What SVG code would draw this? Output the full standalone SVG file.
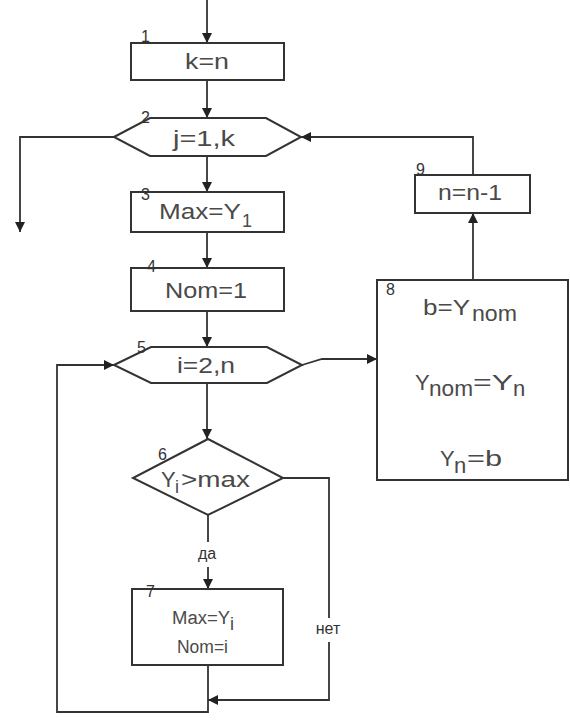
<svg xmlns="http://www.w3.org/2000/svg" width="570" height="722" viewBox="0 0 570 722">
  <defs>
    <marker id="arr" viewBox="0 0 10 10" refX="10" refY="5" markerWidth="10" markerHeight="10" markerUnits="userSpaceOnUse" orient="auto">
      <path d="M0,0 L10,5 L0,10 Z" fill="#222"/>
    </marker>
    <style>
      .shape { fill: #fff; stroke: #333; stroke-width: 2; }
      .line { fill: none; stroke: #333; stroke-width: 1.8; }
      .txt { font-family: "Liberation Sans", Arial, sans-serif; font-size: 22px; fill: #4a4a4a; }
      .sm { font-family: "Liberation Sans", Arial, sans-serif; font-size: 18px; fill: #4a4a4a; }
      .num { font-family: "Liberation Sans", Arial, sans-serif; font-size: 16px; fill: #333; }
      .lbl { font-family: "Liberation Sans", Arial, sans-serif; font-size: 16px; fill: #333; }
    </style>
  </defs>

  <rect width="570" height="722" fill="#fff"/>

  <!-- connectors -->
  <g id="connectors">
    <line class="line" x1="207" y1="0" x2="207" y2="43" marker-end="url(#arr)"/>
    <line class="line" x1="207" y1="80" x2="207" y2="118" marker-end="url(#arr)"/>
    <polyline class="line" points="114,137 20,137 20,232" marker-end="url(#arr)"/>
    <line class="line" x1="207" y1="156" x2="207" y2="192" marker-end="url(#arr)"/>
    <line class="line" x1="207" y1="232" x2="207" y2="268" marker-end="url(#arr)"/>
    <line class="line" x1="207" y1="311" x2="207" y2="347" marker-end="url(#arr)"/>
    <polyline class="line" points="302,365 322,359 377,359" marker-end="url(#arr)"/>
    <line class="line" x1="207" y1="383" x2="207" y2="439" marker-end="url(#arr)"/>
    <line class="line" x1="208" y1="515" x2="208" y2="542"/>
    <line class="line" x1="208" y1="567" x2="208" y2="589" marker-end="url(#arr)"/>
    <polyline class="line" points="283,478 329,478 329,618"/>
    <polyline class="line" points="329,642 329,700 208,700" marker-end="url(#arr)"/>
    <polyline class="line" points="208,665 208,712 57,712 57,365 114,365" marker-end="url(#arr)"/>
    <line class="line" x1="473" y1="280" x2="473" y2="213" marker-end="url(#arr)"/>
    <polyline class="line" points="473,175 473,137 301,137" marker-end="url(#arr)"/>
    <text class="lbl" x="207" y="559" text-anchor="middle">да</text>
    <text class="lbl" x="328" y="634" text-anchor="middle">нет</text>
  </g>

  <!-- 1: k=n -->
  <g id="node1">
    <rect class="shape" x="131" y="43" width="153" height="37"/>
    <text class="num" x="141" y="42">1</text>
    <text class="txt" x="185" y="69" textLength="44" lengthAdjust="spacingAndGlyphs">k=n</text>
  </g>

  <!-- 2: loop j=1,k -->
  <g id="node2">
    <polygon class="shape" points="114,137 150,118 266,118 301,137 266,156 150,156"/>
    <text class="num" x="141" y="123">2</text>
    <text class="txt" x="173" y="146" textLength="62" lengthAdjust="spacingAndGlyphs">j=1,k</text>
  </g>

  <!-- 3: Max=Y1 -->
  <g id="node3">
    <rect class="shape" x="131" y="192" width="153" height="40"/>
    <text class="num" x="141" y="200">3</text>
    <text class="txt" x="159" y="219" textLength="82" lengthAdjust="spacingAndGlyphs">Max=Y</text>
    <text class="sm" x="242" y="227">1</text>
  </g>

  <!-- 4: Nom=1 -->
  <g id="node4">
    <rect class="shape" x="131" y="268" width="153" height="43"/>
    <text class="num" x="147" y="272">4</text>
    <text class="txt" x="165" y="298" textLength="82" lengthAdjust="spacingAndGlyphs">Nom=1</text>
  </g>

  <!-- 5: loop i=2,n -->
  <g id="node5">
    <polygon class="shape" points="114,365 151,347 267,347 302,365 267,383 151,383"/>
    <text class="num" x="137" y="353">5</text>
    <text class="txt" x="177" y="373" textLength="58" lengthAdjust="spacingAndGlyphs">i=2,n</text>
  </g>

  <!-- 6: Yi>max -->
  <g id="node6">
    <polygon class="shape" points="208,439 283,478 208,515 133,478"/>
    <text class="num" x="158" y="460">6</text>
    <text class="txt" x="161" y="487">Y</text>
    <text class="sm" x="175" y="493">i</text>
    <text class="txt" x="181" y="487" textLength="69" lengthAdjust="spacingAndGlyphs">&gt;max</text>
  </g>

  <!-- 7: Max=Yi / Nom=i -->
  <g id="node7">
    <rect class="shape" x="132" y="589" width="151" height="76"/>
    <text class="num" x="146" y="597">7</text>
    <text class="sm" x="172" y="624" textLength="58" lengthAdjust="spacingAndGlyphs">Max=Y</text>
    <text class="sm" x="230" y="630" font-size="15">i</text>
    <text class="sm" x="177" y="653" textLength="51" lengthAdjust="spacingAndGlyphs">Nom=i</text>
  </g>

  <!-- 8: swap block -->
  <g id="node8">
    <rect class="shape" x="377" y="280" width="191" height="200"/>
    <text class="num" x="386" y="295">8</text>
    <text class="txt" x="423" y="315" textLength="47" lengthAdjust="spacingAndGlyphs">b=Y</text>
    <text class="txt" x="472" y="321" textLength="45" lengthAdjust="spacingAndGlyphs">nom</text>
    <text class="txt" x="415" y="390">Y</text>
    <text class="txt" x="429" y="396" textLength="44" lengthAdjust="spacingAndGlyphs">nom</text>
    <text class="txt" x="473" y="390" textLength="40" lengthAdjust="spacingAndGlyphs">=Y</text>
    <text class="txt" x="513" y="396">n</text>
    <text class="txt" x="440" y="466">Y</text>
    <text class="txt" x="454" y="473">n</text>
    <text class="txt" x="467" y="466" textLength="35" lengthAdjust="spacingAndGlyphs">=b</text>
  </g>

  <!-- 9: n=n-1 -->
  <g id="node9">
    <rect class="shape" x="415" y="175" width="115" height="38"/>
    <text class="num" x="416" y="175">9</text>
    <text class="txt" x="438" y="200" textLength="64" lengthAdjust="spacingAndGlyphs">n=n-1</text>
  </g>
</svg>
